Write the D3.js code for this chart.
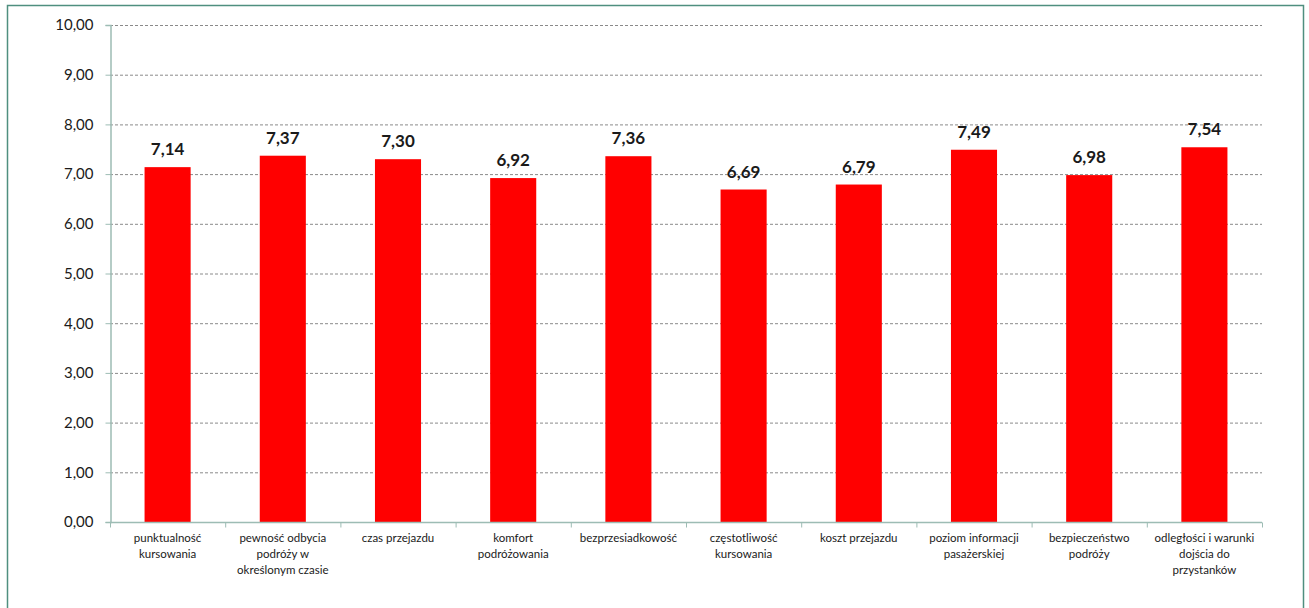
<!DOCTYPE html>
<html><head><meta charset="utf-8">
<script src="https://cdnjs.cloudflare.com/ajax/libs/d3/7.8.5/d3.min.js"></script>
<style>body{margin:0;background:#fff}svg{display:block}</style>
</head><body>
<svg id="c" width="1309" height="608"></svg>
<script>
const categories = [
  ["punktualność","kursowania"],
  ["pewność odbycia","podróży w","określonym czasie"],
  ["czas przejazdu"],
  ["komfort","podróżowania"],
  ["bezprzesiadkowość"],
  ["częstotliwość","kursowania"],
  ["koszt przejazdu"],
  ["poziom informacji","pasażerskiej"],
  ["bezpieczeństwo","podróży"],
  ["odległości i warunki","dojścia do","przystanków"]
];
const values = [7.14, 7.37, 7.30, 6.92, 7.36, 6.69, 6.79, 7.49, 6.98, 7.54];
const yTicks = [0,1,2,3,4,5,6,7,8,9,10];

const svg = d3.select("#c");
const font = "Lato, 'Open Sans', sans-serif";
const fmt = v => v.toFixed(2).replace(".", ",");

svg.append("rect").attr("x",7.5).attr("y",5.5).attr("width",1296).attr("height",620)
  .attr("fill","#fff").attr("stroke","#4f8f7f").attr("stroke-width",1.5);

const L = 110, R = 1262, T = 25, B = 522;
const x = d3.scaleBand().domain(d3.range(values.length)).range([L, R]).padding(0);
const y = d3.scaleLinear().domain([0,10]).range([B, T]);

// gridlines
svg.append("g").selectAll("line").data(yTicks.filter(d=>d>0)).join("line")
  .attr("x1",L).attr("x2",R).attr("y1",d=>y(d)+0.5).attr("y2",d=>y(d)+0.5)
  .attr("stroke","#8a8a8a").attr("stroke-width",1).attr("stroke-dasharray","3,2");

// y axis
const ya = svg.append("g").attr("transform",`translate(${L+0.5},0)`)
  .call(d3.axisLeft(y).tickValues(yTicks).tickFormat(fmt).tickSize(5).tickPadding(12));
ya.select(".domain").attr("stroke","#9dbcb4").attr("stroke-width",1.5);
ya.selectAll(".tick line").attr("stroke","#9dbcb4");
ya.selectAll(".tick text").attr("font-family",font).attr("font-size",15).attr("fill","#1a1a1a");

// bars
const bw = x.bandwidth()*0.4;
svg.append("g").selectAll("rect").data(values).join("rect")
  .attr("x",(d,i)=>x(i)+(x.bandwidth()-bw)/2)
  .attr("width",bw)
  .attr("y",d=>y(d))
  .attr("height",d=>y(0)-y(d))
  .attr("fill","#ff0000");

// x axis
const xa = svg.append("g").attr("transform",`translate(0,${B+0.5})`);
xa.append("line").attr("x1",L).attr("x2",R).attr("stroke","#9dbcb4").attr("stroke-width",1.5);
const bounds = d3.range(values.length+1).map(i=> i<values.length ? x(i) : R);
xa.selectAll("line.t").data(bounds).join("line").attr("class","t")
  .attr("x1",d=>d+0.5).attr("x2",d=>d+0.5).attr("y1",0).attr("y2",5).attr("stroke","#9dbcb4");

// category labels
const cl = svg.append("g").selectAll("text").data(categories).join("text")
  .attr("font-family",font).attr("font-size",11.5).attr("fill","#1a1a1a")
  .attr("text-anchor","middle");
cl.each(function(lines,i){
  const t = d3.select(this);
  lines.forEach((ln,j)=>{
    t.append("tspan").attr("x",x(i)+x.bandwidth()/2).attr("y",B+20+j*16).text(ln);
  });
});

// value labels
svg.append("g").selectAll("text").data(values).join("text")
  .attr("x",(d,i)=>x(i)+x.bandwidth()/2)
  .attr("y",d=>y(d)-12)
  .attr("text-anchor","middle")
  .attr("font-family",font).attr("font-weight","bold").attr("font-size",17).attr("fill","#1a1a1a")
  .text(fmt);
</script>
</body></html>
